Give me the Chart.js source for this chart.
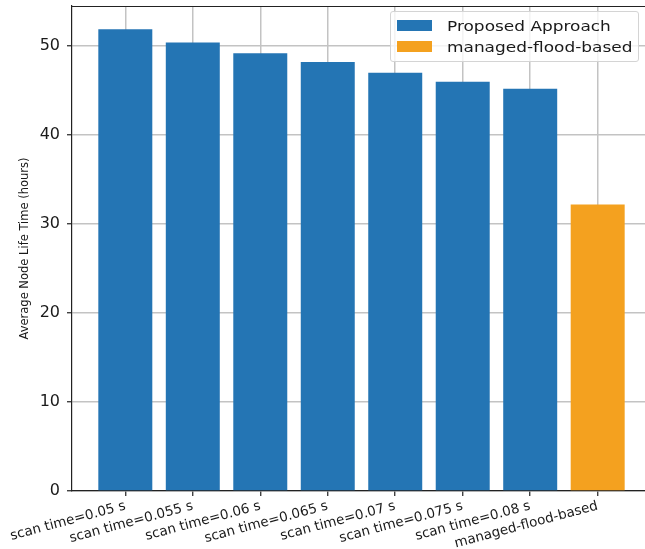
<!DOCTYPE html>
<html>
<head>
<meta charset="utf-8">
<script src="https://cdn.jsdelivr.net/npm/chart.js@4.4.1/dist/chart.umd.min.js"></script>
<style>
  html, body { margin: 0; padding: 0; background: #ffffff; overflow: hidden; width: 645px; height: 549px; }
  canvas { display: block; }
</style>
</head>
<body>
<canvas id="c" width="660" height="549"></canvas>
<script>
// Category labels along the x axis
const categories = [
  'scan time=0.05 s', 'scan time=0.055 s', 'scan time=0.06 s', 'scan time=0.065 s',
  'scan time=0.07 s', 'scan time=0.075 s', 'scan time=0.08 s', 'managed-flood-based'
];
// Average node life time (hours)
const proposedValues = [51.9, 50.4, 49.2, 48.2, 47.0, 46.0, 45.2];
const floodValues = [32.2];
const seriesNames = ['Proposed Approach', 'managed-flood-based'];
const seriesColors = ['#2475b4', '#f4a11f'];
const yTicks = [0, 10, 20, 30, 40, 50];
const yMax = 54.5;
const xMin = -0.79, xMax = 7.79;

const FONT = '"DejaVu Sans", sans-serif';
const TEXT = '#1a1a1a';
const GRID = '#c3c3c3';
const SPINE = '#222222';

const proposedPoints = proposedValues.map((v, i) => ({ x: i, y: v }));
const floodPoints = floodValues.map((v, i) => ({ x: proposedValues.length + i, y: v }));

// Top spine and the framed legend, drawn above everything else
const overlay = {
  id: 'overlay',
  afterDraw(chart) {
    const { ctx, chartArea } = chart;
    ctx.save();
    ctx.strokeStyle = SPINE;
    ctx.lineWidth = 1.2;
    ctx.beginPath();
    ctx.moveTo(chartArea.left, Math.round(chartArea.top) + 0.5);
    ctx.lineTo(chartArea.right, Math.round(chartArea.top) + 0.5);
    ctx.stroke();

    // legend frame
    const bx = 390.5, by = 11.5, bw = 248, bh = 50, r = 2.5;
    ctx.beginPath();
    ctx.moveTo(bx + r, by);
    ctx.lineTo(bx + bw - r, by);
    ctx.quadraticCurveTo(bx + bw, by, bx + bw, by + r);
    ctx.lineTo(bx + bw, by + bh - r);
    ctx.quadraticCurveTo(bx + bw, by + bh, bx + bw - r, by + bh);
    ctx.lineTo(bx + r, by + bh);
    ctx.quadraticCurveTo(bx, by + bh, bx, by + bh - r);
    ctx.lineTo(bx, by + r);
    ctx.quadraticCurveTo(bx, by, bx + r, by);
    ctx.closePath();
    ctx.fillStyle = 'rgba(255,255,255,0.8)';
    ctx.fill();
    ctx.strokeStyle = '#d4d4d4';
    ctx.lineWidth = 1;
    ctx.stroke();

    chart.data.datasets.forEach((ds, i) => {
      const ry = 20 + i * 21;
      ctx.fillStyle = ds.backgroundColor;
      ctx.fillRect(397, ry, 35, 11);
      ctx.save();
      ctx.translate(447, ry + 10.7);
      ctx.scale(1.21, 1);
      ctx.font = '14px ' + FONT;
      ctx.textBaseline = 'alphabetic';
      ctx.textAlign = 'left';
      ctx.fillStyle = TEXT;
      ctx.fillText(ds.label, 0, 0);
      ctx.restore();
    });
    ctx.restore();
  }
};

new Chart(document.getElementById('c'), {
  type: 'bar',
  data: {
    datasets: [
      { label: seriesNames[0], data: proposedPoints, backgroundColor: seriesColors[0], stack: 'all' },
      { label: seriesNames[1], data: floodPoints, backgroundColor: seriesColors[1], stack: 'all' }
    ]
  },
  options: {
    responsive: false,
    animation: false,
    devicePixelRatio: 1,
    layout: { padding: { left: 0, top: 6, right: 9, bottom: 0 } },
    datasets: { bar: { barPercentage: 0.8, categoryPercentage: 1.0, borderWidth: 0 } },
    plugins: { legend: { display: false }, tooltip: { enabled: false } },
    scales: {
      x: {
        type: 'linear',
        min: xMin,
        max: xMax,
        offset: false,
        z: 1,
        afterBuildTicks: (s) => { s.ticks = categories.map((_, i) => ({ value: i })); },
        afterFit: (s) => { s.height = 58; s.paddingLeft = 0; s.paddingRight = 0; },
        grid: { offset: false, color: GRID, lineWidth: 1.5, drawTicks: true, tickLength: 5, tickColor: SPINE, tickWidth: 1.2 },
        border: { display: true, color: SPINE, width: 1.2 },
        ticks: {
          autoSkip: false,
          minRotation: 15,
          maxRotation: 15,
          padding: 2,
          color: TEXT,
          font: { family: FONT, size: 13.5 },
          callback: (v) => categories[v]
        }
      },
      y: {
        type: 'linear',
        min: 0,
        max: yMax,
        z: 1,
        afterBuildTicks: (s) => { s.ticks = yTicks.map(v => ({ value: v })); },
        afterFit: (s) => { s.width = 72; s.paddingTop = 0; s.paddingBottom = 0; },
        grid: { color: GRID, lineWidth: 1.5, drawTicks: true, tickLength: 5, tickColor: SPINE, tickWidth: 1.2 },
        border: { display: true, color: SPINE, width: 1.2 },
        ticks: { padding: 7, color: TEXT, font: { family: FONT, size: 16 } },
        title: {
          display: true,
          text: 'Average Node Life Time (hours)',
          color: TEXT,
          font: { family: FONT, size: 11.5 },
          padding: { top: 18, bottom: 0 }
        }
      }
    }
  },
  plugins: [overlay]
});
</script>
</body>
</html>
